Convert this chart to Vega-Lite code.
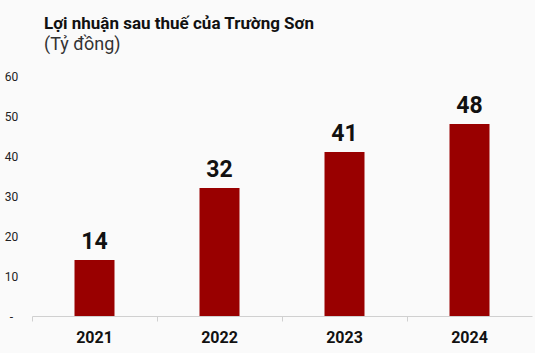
{
  "$schema": "https://vega.github.io/schema/vega-lite/v6.json",
  "width": 500,
  "height": 240,
  "autosize": "none",
  "padding": {"left": 32, "top": 76, "right": 3, "bottom": 37},
  "background": "#FAFAFA",
  "config": {"view": {"stroke": null}, "font": "Roboto"},
  "title": {
    "text": "Lợi nhuận sau thuế của Trường Sơn",
    "subtitle": "(Tỷ đồng)",
    "anchor": "start",
    "frame": "group",
    "dx": 12,
    "offset": 15,
    "font": "Roboto",
    "fontSize": 17,
    "fontWeight": "bold",
    "color": "#111111",
    "subtitleFont": "Roboto",
    "subtitleFontSize": 18,
    "subtitleColor": "#333333",
    "subtitlePadding": 3
  },
  "data": {
    "values": [
      {"year": "2021", "profit": 14},
      {"year": "2022", "profit": 32},
      {"year": "2023", "profit": 41},
      {"year": "2024", "profit": 48}
    ]
  },
  "encoding": {
    "x": {
      "field": "year",
      "type": "nominal",
      "scale": {"paddingInner": 0, "paddingOuter": 0},
      "axis": {
        "title": null,
        "labelAngle": 0,
        "labelFont": "Roboto",
        "labelFontSize": 16,
        "labelFontWeight": "bold",
        "labelColor": "#111111",
        "labelPadding": 8,
        "domainColor": "#D0D0D0",
        "tickColor": "#D0D0D0",
        "tickSize": 5,
        "bandPosition": 0
      }
    },
    "y": {
      "field": "profit",
      "type": "quantitative",
      "scale": {"domain": [0, 60]},
      "axis": {
        "title": null,
        "values": [0, 10, 20, 30, 40, 50, 60],
        "grid": false,
        "domain": false,
        "ticks": false,
        "tickSize": 0,
        "labelPadding": 21,
        "labelAlign": "center",
        "labelFont": "Roboto",
        "labelFontSize": 12,
        "labelColor": "#222222",
        "labelExpr": "datum.value == 0 ? '-' : datum.label"
      }
    }
  },
  "layer": [
    {"mark": {"type": "bar", "size": 40, "color": "#990000"}},
    {
      "mark": {
        "type": "text",
        "baseline": "alphabetic",
        "dy": -11,
        "font": "Roboto",
        "fontSize": 23,
        "fontWeight": "bold",
        "color": "#111111"
      },
      "encoding": {"text": {"field": "profit", "type": "quantitative"}}
    }
  ]
}
